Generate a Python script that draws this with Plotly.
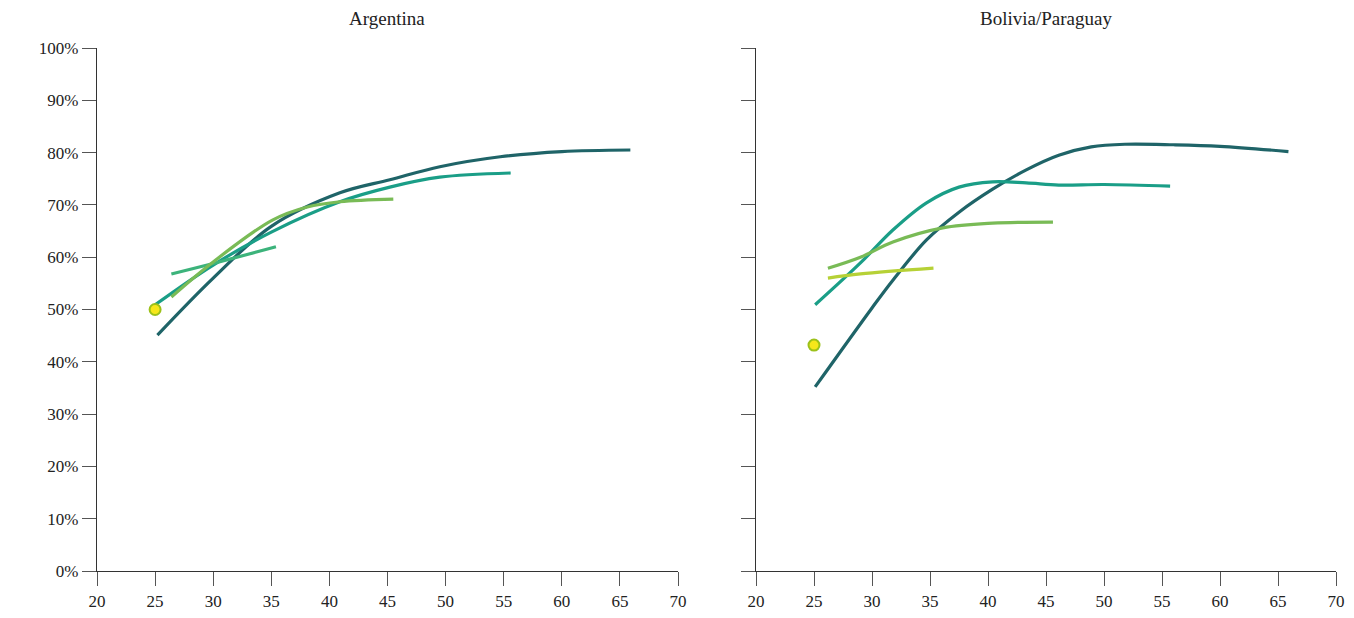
import plotly.graph_objects as go

# ---------------- data ----------------
arg_c1_age = [25.2, 30, 35, 40.9, 45.2, 49.5, 54.7, 60, 65.9]
arg_c1_val = [45.1, 56.0, 65.9, 72.3, 74.8, 77.3, 79.2, 80.2, 80.5]

arg_c2_age = [25, 30, 35, 40.9, 45.2, 49.5, 55.6]
arg_c2_val = [50.9, 58.5, 64.8, 70.6, 73.4, 75.3, 76.1]

arg_c3_age = [26.4, 30, 35.4]
arg_c3_val = [56.8, 58.8, 62.0]

arg_c4_age = [26.4, 30, 35.1, 38.1, 40.9, 45.5]
arg_c4_val = [52.4, 59.1, 67.1, 69.6, 70.6, 71.1]

arg_pt_age = [25]
arg_pt_val = [50.0]

bol_c1_age = [25.1, 30, 31.8, 34.7, 37.5, 40.4, 43.3, 46.1, 48.9, 51.8, 56, 60, 65.9]
bol_c1_val = [35.2, 50.3, 55.6, 63.3, 68.6, 73.0, 76.7, 79.5, 81.1, 81.6, 81.5, 81.2, 80.2]

bol_c2_age = [25.1, 29.0, 31.8, 34.7, 37.5, 40.4, 43.3, 46.1, 50, 55.7]
bol_c2_val = [50.9, 58.9, 65.2, 70.4, 73.4, 74.4, 74.2, 73.8, 73.9, 73.6]

bol_c3_age = [26.2, 29.0, 31.8, 36.1, 40.4, 45.6]
bol_c3_val = [57.9, 60.0, 62.9, 65.6, 66.5, 66.7]

bol_c4_age = [26.2, 29.0, 35.3]
bol_c4_val = [56.0, 56.8, 57.9]

bol_pt_age = [25]
bol_pt_val = [43.2]

x_ticks = [20, 25, 30, 35, 40, 45, 50, 55, 60, 65, 70]
y_ticks = [0, 10, 20, 30, 40, 50, 60, 70, 80, 90, 100]
y_labels = [f"{v}%" for v in y_ticks]
titles = ["Argentina", "Bolivia/Paraguay"]

DARK = "#1f6468"
TEAL = "#1a9e87"
MID = "#3cb37b"
LGREEN = "#79bb56"
YGREEN = "#b6d136"
PT_FILL = "#f6e71a"
PT_LINE = "#9cc11a"

fig = go.Figure()

def line(x, y, color, xa, ya):
    fig.add_trace(go.Scatter(x=x, y=y, mode="lines", xaxis=xa, yaxis=ya,
                             line=dict(color=color, width=3.2, shape="spline", smoothing=1.0),
                             showlegend=False, hoverinfo="skip"))

def point(x, y, xa, ya):
    fig.add_trace(go.Scatter(x=x, y=y, mode="markers", xaxis=xa, yaxis=ya,
                             marker=dict(color=PT_FILL, size=11, line=dict(color=PT_LINE, width=2)),
                             showlegend=False, hoverinfo="skip"))

line(arg_c1_age, arg_c1_val, DARK, "x", "y")
line(arg_c2_age, arg_c2_val, TEAL, "x", "y")
line(arg_c3_age, arg_c3_val, MID, "x", "y")
line(arg_c4_age, arg_c4_val, LGREEN, "x", "y")
point(arg_pt_age, arg_pt_val, "x", "y")

line(bol_c1_age, bol_c1_val, DARK, "x2", "y2")
line(bol_c2_age, bol_c2_val, TEAL, "x2", "y2")
line(bol_c3_age, bol_c3_val, LGREEN, "x2", "y2")
line(bol_c4_age, bol_c4_val, YGREEN, "x2", "y2")
point(bol_pt_age, bol_pt_val, "x2", "y2")

FONT = "Liberation Serif"
xax = dict(range=[20, 70], tickvals=x_ticks, showgrid=False, zeroline=False, automargin=False,
           showline=True, linecolor="#333", linewidth=1.3,
           ticks="outside", ticklen=14, tickcolor="#555", tickwidth=1.3,
           tickfont=dict(family=FONT, size=17, color="#222"))
yax = dict(range=[0, 100], tickvals=y_ticks, showgrid=False, zeroline=False, automargin=False,
           showline=True, linecolor="#333", linewidth=1.3,
           ticks="outside", ticklen=14, tickcolor="#555", tickwidth=1.3,
           tickfont=dict(family=FONT, size=17, color="#222"))

# page body has an 8px margin; compensate so the plot lands where the reference has it
OFF = 8
W, H = 1354 - 2 * OFF, 618 - 2 * OFF
L = 97 - OFF
T = 48 - OFF
R = W - (1336 - OFF)
B = H - (571 - OFF)
PW, PH = W - L - R, H - T - B
fig.update_layout(
    width=W, height=H,
    margin=dict(l=L, r=R, t=T, b=B),
    paper_bgcolor="white", plot_bgcolor="white",
    xaxis=dict(xax, domain=[0, (678 - 97) / PW], anchor="y"),
    yaxis=dict(yax, domain=[0, 1], anchor="x", ticktext=y_labels),
    xaxis2=dict(xax, domain=[(756 - 97) / PW, 1], anchor="y2"),
    yaxis2=dict(yax, domain=[0, 1], anchor="x2", showticklabels=False),
    annotations=[
        dict(text=titles[0], x=(387 - 97) / PW, y=(571 - 18) / PH, xref="paper", yref="paper",
             showarrow=False, xanchor="center", yanchor="middle",
             font=dict(family=FONT, size=19, color="#222")),
        dict(text=titles[1], x=(1046 - 97) / PW, y=(571 - 18) / PH, xref="paper", yref="paper",
             showarrow=False, xanchor="center", yanchor="middle",
             font=dict(family=FONT, size=19, color="#222")),
    ],
)

fig.write_html("out.html")
